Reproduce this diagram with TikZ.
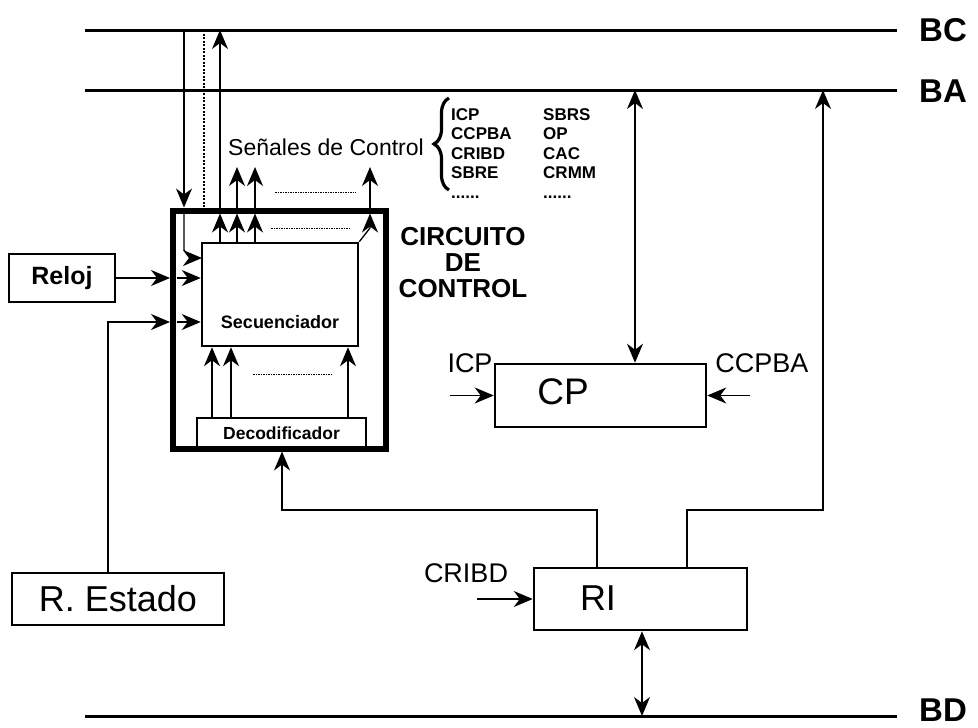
\documentclass[tikz,border=0pt]{standalone}
\usepackage{fontspec}
\setmainfont{Liberation Sans}
\usetikzlibrary{arrows.meta,decorations.pathreplacing}
\begin{document}
\begin{tikzpicture}[x=1pt,y=-1pt,
  box/.style={draw, line width=2.5pt, inner sep=0pt},
  bus/.style={line width=3pt},
  wire/.style={line width=1.3pt},
  arr/.style={wire, -{Stealth[length=19pt,width=16pt,inset=6pt]}},
  darr/.style={wire, {Stealth[length=19pt,width=16pt,inset=6pt]}-{Stealth[length=19pt,width=16pt,inset=6pt]}},
  dots/.style={line width=1pt, dash pattern=on 1.5pt off 1pt},
  txt/.style={inner sep=0pt},
  f/.style={font=\fontsize{#1}{#1}\selectfont},
  fb/.style={font=\fontsize{#1}{#1}\selectfont\bfseries}
]
\useasboundingbox (0,0) rectangle (978,728);

% buses
\coordinate (bcL) at (85,30);  \coordinate (bcR) at (897,30);
\coordinate (baL) at (85,90);  \coordinate (baR) at (897,90);
\coordinate (bdL) at (85,716); \coordinate (bdR) at (897,716);
\draw[bus] (bcL) -- (bcR);
\draw[bus] (baL) -- (baR);
\draw[bus] (bdL) -- (bdR);
\node[txt,fb=33] (lbc) at (943,30) {BC};
\node[txt,fb=33] (lba) at (943,91) {BA};
\node[txt,fb=33] (lbd) at (943,710) {BD};

% boxes
\node[draw, line width=6pt, inner sep=0pt, minimum width=213, minimum height=238] (outer) at (279.5,329.5) {};
\node[box, minimum width=156, minimum height=103] (seq) at (280,294.5) {};
\node[box, minimum width=169, minimum height=30] (deco) at (281.5,433) {};
\node[box, minimum width=106, minimum height=48, fb=25] (reloj) at (62,278) {Reloj};
\node[box, minimum width=212, minimum height=52, f=36] (estado) at (118,599) {R. Estado};
\node[box, minimum width=211, minimum height=63] (cp) at (600.5,395.5) {};
\node[box, minimum width=213, minimum height=62] (ri) at (640.5,599) {};

\node[txt,fb=18] (tseq) at (280,322) {Secuenciador};
\node[txt,fb=17.5] at (deco) {Decodificador};
\node[txt,f=37] (tcp) at (563,392) {CP};
\node[txt,f=36] (tri) at (598,598) {RI};
\node[txt,f=27] (licp) at (470,363) {ICP};
\node[txt,f=27] (lccp) at (762,363) {CCPBA};
\node[txt,f=27] (lcri) at (466,573) {CRIBD};

\node[txt,font=\fontsize{26}{26}\selectfont\bfseries, align=center] (circ) at (463,263) {CIRCUITO\\DE\\CONTROL};
\node[txt,f=23] (senal) at (326,147) {Señales de Control};
\draw[line width=3.2pt, decorate, decoration={brace, amplitude=15pt, raise=0pt}] (449,190) -- (449,98);
\node[txt, anchor=north west, align=left, font=\fontsize{17}{19.5}\selectfont\bfseries] (sig1) at (451,108) {ICP\\CCPBA\\CRIBD\\SBRE\\......};
\node[txt, anchor=north west, align=left, font=\fontsize{17}{19.5}\selectfont\bfseries] (sig2) at (543,108) {SBRS\\OP\\CAC\\CRMM\\......};

% column coordinates
\coordinate (x184) at (184,0);
\coordinate (x204) at (204,0);
\coordinate (x220) at (220,0);
\coordinate (x237) at (237,0);
\coordinate (x255) at (255,0);
\coordinate (x370) at (370,0);
\coordinate (itop) at (0,213.5);
\coordinate (iin) at (176.5,0);
\coordinate (top167) at (0,167);

% from BC into the control circuit
\draw[arr] (x184 |- bcL) -- (x184 |- outer.north);
\draw[arr] (184,213) -- (184,250) -- (190,258) -- (202,258);
\draw[wire, dash pattern=on 2pt off 1.5pt] (x204 |- bcL) -- (x204 |- outer.north);

% outputs of the sequencer
\draw[arr] (x220 |- seq.north) -- (x220 |- itop);
\draw[arr] (x237 |- seq.north) -- (x237 |- itop);
\draw[arr] (x255 |- seq.north) -- (x255 |- itop);
\draw[arr] (seq.north east) -- (370,228) -- (x370 |- itop);
\draw[arr] (x220 |- outer.north) -- (x220 |- bcL);
\draw[arr] (x237 |- outer.north) -- (x237 |- top167);
\draw[arr] (x255 |- outer.north) -- (x255 |- top167);
\draw[arr] (x370 |- outer.north) -- (x370 |- top167);
\draw[dots] (275,192) -- (356,192);
\draw[dots] (271,228) -- (351,228);

% left inputs
\draw[arr] (reloj.east) -- (reloj.east -| outer.west);
\draw[arr] (reloj.east -| iin) -- (reloj.east -| seq.west);
\coordinate (ye) at (108,322);
\draw[arr] ([xshift=-10pt]estado.north) -- (ye) -- (ye -| outer.west);
\draw[arr] (ye -| iin) -- (ye -| seq.west);

% decoder to sequencer
\coordinate (x212) at (212,0);
\coordinate (x231) at (231,0);
\coordinate (x348) at (348,0);
\draw[arr] (x212 |- deco.north) -- (x212 |- seq.south);
\draw[arr] (x231 |- deco.north) -- (x231 |- seq.south);
\draw[arr] (x348 |- deco.north) -- (x348 |- seq.south);
\draw[dots] (253,374) -- (332,374);

% RI connections
\coordinate (r1) at (597,510);
\coordinate (r2) at (282,510);
\draw[arr] (r1 |- ri.north) -- (r1) -- (r2) -- (r2 |- outer.south);
\coordinate (r3) at (687,510);
\coordinate (r4) at (823,510);
\draw[arr] (r3 |- ri.north) -- (r3) -- (r4) -- (r4 |- baL);
\coordinate (cri) at (477,0);
\draw[arr] (cri |- ri.west) -- (ri.west);
\coordinate (x642) at (642,0);
\draw[darr] (x642 |- ri.south) -- (x642 |- bdL);

% CP connections
\coordinate (x635) at (635,0);
\draw[darr] (x635 |- baL) -- (x635 |- cp.north);
\coordinate (icp) at (450,0);
\coordinate (ccp) at (750,0);
\draw[arr] (icp |- cp.west) -- (cp.west);
\draw[arr] (ccp |- cp.east) -- (cp.east);
\end{tikzpicture}
\end{document}
